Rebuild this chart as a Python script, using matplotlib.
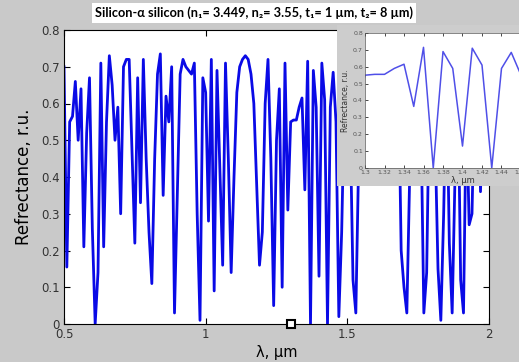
import numpy as np
import matplotlib
matplotlib.use('Agg')
import matplotlib.pyplot as plt
from matplotlib.patches import Rectangle

# wavelength grid, um (0.01 step)
wl = np.round(np.arange(0.50, 2.001, 0.01), 2)

# reflectance
refl = [0.70, 0.155, 0.55, 0.565, 0.66, 0.50, 0.64, 0.21, 0.52, 0.67,
        0.26, 0.00, 0.14, 0.71, 0.21, 0.55, 0.73, 0.65, 0.50, 0.59,
        0.30, 0.70, 0.72, 0.72, 0.47, 0.22, 0.67, 0.33, 0.72, 0.45,
        0.25, 0.11, 0.45, 0.68, 0.735, 0.35, 0.62, 0.55, 0.70, 0.03,
        0.35, 0.68, 0.72, 0.70, 0.69, 0.68, 0.71, 0.30, 0.01, 0.67,
        0.63, 0.28, 0.72, 0.09, 0.69, 0.42, 0.16, 0.71, 0.45, 0.14,
        0.40, 0.63, 0.70, 0.72, 0.73, 0.72, 0.68, 0.60, 0.38, 0.16,
        0.25, 0.60, 0.72, 0.45, 0.05, 0.50, 0.64, 0.10, 0.71, 0.31,
        0.55, 0.555, 0.555, 0.59, 0.615, 0.365, 0.715, 0.00, 0.69, 0.59,
        0.13, 0.71, 0.61, 0.00, 0.59, 0.685, 0.55, 0.02, 0.25, 0.62,
        0.70, 0.55, 0.12, 0.03, 0.45, 0.68, 0.60, 0.70, 0.50, 0.66,
        0.72, 0.64, 0.58, 0.70, 0.72, 0.60, 0.48, 0.66, 0.70, 0.20,
        0.10, 0.03, 0.40, 0.68, 0.72, 0.55, 0.55, 0.03, 0.14, 0.65,
        0.72, 0.50, 0.15, 0.01, 0.30, 0.70, 0.22, 0.03, 0.40, 0.68,
        0.12, 0.03, 0.60, 0.27, 0.30, 0.66, 0.72, 0.36, 0.62, 0.70,
        0.58]

yticks = [0, 0.1, 0.2, 0.3, 0.4, 0.5, 0.6, 0.7, 0.8]
xticks = [0.5, 1, 1.5, 2]
inset_xticks = [1.3, 1.32, 1.34, 1.36, 1.38, 1.4, 1.42, 1.44, 1.46, 1.48]

title = 'Silicon-α silicon (n₁= 3.449, n₂= 3.55, t₁= 1 µm, t₂= 8 µm)'
ylab = 'Refrectance, r.u.'
xlab = 'λ, µm'

W, H = 519, 362
fig = plt.figure(figsize=(W / 100, H / 100), dpi=100)
fig.patch.set_facecolor('#c9c9c9')

ax = fig.add_axes([64 / W, 1 - 324 / H, 425 / W, 294 / H])
ax.plot(wl, refl, color='#0a0ae6', lw=2.0)
ax.plot([1.3], [0], marker='s', ms=6, mfc='white', mec='black', mew=1.5,
        clip_on=False, zorder=5)
ax.set_xlim(0.5, 2)
ax.set_ylim(0, 0.8)
ax.set_xticks(xticks)
ax.set_xticklabels(['0.5', '1', '1.5', '2'])
ax.set_yticks(yticks)
ax.set_yticklabels(['0', '0.1', '0.2', '0.3', '0.4', '0.5', '0.6', '0.7', '0.8'])
ax.tick_params(direction='in', length=4, width=0.8, top=True, right=True,
               labelsize=8.5, labelcolor='#333333', pad=3)
for s in ax.spines.values():
    s.set_linewidth(0.8)
ax.set_ylabel(ylab, fontsize=12, labelpad=6)
ax.set_xlabel(xlab, fontsize=10.5, labelpad=3)

fig.text(254 / W, 1 - 13 / H, title, ha='center', va='center', fontsize=9.2,
         fontweight='bold', family=['Lato', 'DejaVu Sans'],
         bbox=dict(facecolor='white', edgecolor='none', pad=2.5))

# inset panel and zoomed axes
fig.patches.append(Rectangle((337 / W, 1 - 186 / H), (W - 337) / W, 161 / H,
                             transform=fig.transFigure, facecolor='#cdcdcd',
                             edgecolor='none', zorder=3))
axi = fig.add_axes([365 / W, 1 - 168 / H, 195 / W, 135 / H], zorder=4)
axi.plot(wl, refl, color='#4f4fe8', lw=1.1)
axi.set_xlim(1.3, 1.5)
axi.set_ylim(0, 0.8)
axi.set_xticks(inset_xticks)
axi.set_xticklabels(['1.3', '1.32', '1.34', '1.36', '1.38', '1.4', '1.42',
                     '1.44', '1.46', '1.48'])
axi.set_yticks(yticks)
axi.set_yticklabels(['0', '0.1', '0.2', '0.3', '0.4', '0.5', '0.6', '0.7', '0.8'])
axi.tick_params(direction='in', length=2, width=0.5, top=True, right=True,
                labelsize=4.5, labelcolor='#555555', pad=1.5)
for s in axi.spines.values():
    s.set_linewidth(0.5)
    s.set_color('#555555')
axi.set_ylabel(ylab, fontsize=5.5, labelpad=2, color='#333333')
axi.set_xlabel(xlab, fontsize=6, labelpad=0.5, color='#333333')

fig.savefig('out.png', dpi=100, facecolor=fig.get_facecolor())
